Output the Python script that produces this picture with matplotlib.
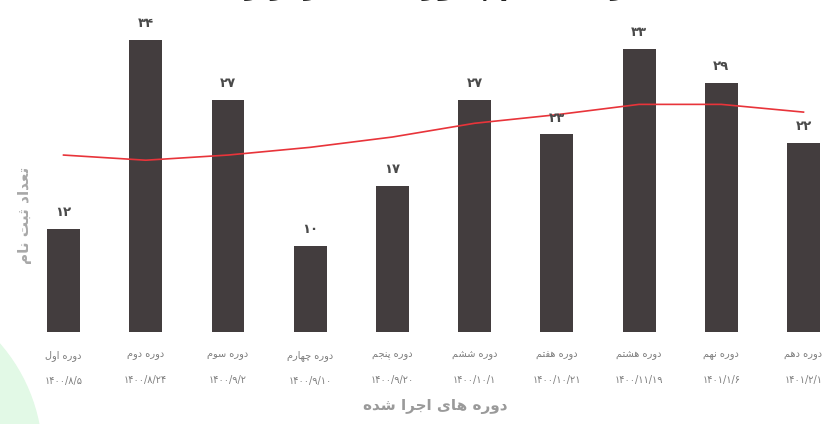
import matplotlib.pyplot as plt
from matplotlib.patches import Circle
from matplotlib.transforms import IdentityTransform

# data
names = ['دوره اول', 'دوره دوم', 'دوره سوم', 'دوره چهارم', 'دوره پنجم',
         'دوره ششم', 'دوره هفتم', 'دوره هشتم', 'دوره نهم', 'دوره دهم']
dates = ['۱۴۰۰/۸/۵', '۱۴۰۰/۸/۲۴', '۱۴۰۰/۹/۲', '۱۴۰۰/۹/۱۰', '۱۴۰۰/۹/۲۰',
         '۱۴۰۰/۱۰/۱', '۱۴۰۰/۱۰/۲۱', '۱۴۰۰/۱۱/۱۹', '۱۴۰۱/۱/۶', '۱۴۰۱/۲/۱']
counts = [12, 34, 27, 10, 17, 27, 23, 33, 29, 22]
trend = [20.6, 20.0, 20.6, 21.5, 22.7, 24.3, 25.3, 26.5, 26.5, 25.6]
ylabel = 'تعداد ثبت نام'
xlabel = 'دوره های اجرا شده'
title = 'آمار ثبت نام | دوره های برگزار شده'

# arabic letter forms: isolated, final, initial, medial
forms = {
    'آ': ('\uFE81', '\uFE82', None, None),
    'ا': ('\uFE8D', '\uFE8E', None, None),
    'ب': ('\uFE8F', '\uFE90', '\uFE91', '\uFE92'),
    'ت': ('\uFE95', '\uFE96', '\uFE97', '\uFE98'),
    'ث': ('\uFE99', '\uFE9A', '\uFE9B', '\uFE9C'),
    'ج': ('\uFE9D', '\uFE9E', '\uFE9F', '\uFEA0'),
    'د': ('\uFEA9', '\uFEAA', None, None),
    'ر': ('\uFEAD', '\uFEAE', None, None),
    'ز': ('\uFEAF', '\uFEB0', None, None),
    'س': ('\uFEB1', '\uFEB2', '\uFEB3', '\uFEB4'),
    'ش': ('\uFEB5', '\uFEB6', '\uFEB7', '\uFEB8'),
    'ع': ('\uFEC9', '\uFECA', '\uFECB', '\uFECC'),
    'ف': ('\uFED1', '\uFED2', '\uFED3', '\uFED4'),
    'ل': ('\uFEDD', '\uFEDE', '\uFEDF', '\uFEE0'),
    'م': ('\uFEE1', '\uFEE2', '\uFEE3', '\uFEE4'),
    'ن': ('\uFEE5', '\uFEE6', '\uFEE7', '\uFEE8'),
    'ه': ('\uFEE9', '\uFEEA', '\uFEEB', '\uFEEC'),
    'و': ('\uFEED', '\uFEEE', None, None),
    'ی': ('\uFBFC', '\uFBFD', '\uFBFE', '\uFBFF'),
    'پ': ('\uFB56', '\uFB57', '\uFB58', '\uFB59'),
    'چ': ('\uFB7A', '\uFB7B', '\uFB7C', '\uFB7D'),
    'گ': ('\uFB92', '\uFB93', '\uFB94', '\uFB95'),
}


def fa(s):
    out = []
    for i, c in enumerate(s):
        if c not in forms:
            out.append(c)
            continue
        prev = s[i - 1] if i > 0 else None
        nxt = s[i + 1] if i + 1 < len(s) else None
        jp = prev in forms and forms[prev][2] is not None
        jn = nxt in forms and forms[c][2] is not None
        iso, fin, ini, med = forms[c]
        if jp and jn:
            out.append(med)
        elif jp:
            out.append(fin)
        elif jn:
            out.append(ini)
        else:
            out.append(iso)
    return ''.join(reversed(out))


def fa_digits(n):
    return ''.join(chr(0x06F0 + int(d)) for d in str(n))


plt.rcParams['font.family'] = ['DejaVu Sans']

fig = plt.figure(figsize=(8.38, 4.24), dpi=100)
# light green circle in the lower left corner (pixel coords)
fig.patches.append(Circle((-130, -33), 172, transform=IdentityTransform(),
                          color='#e2f9e6', zorder=0))

ax = fig.add_axes([22.4 / 838, 92 / 424, 814 / 838, 326.4 / 424])
ax.set_facecolor('none')
x = list(range(len(counts)))
ax.bar(x, counts, width=0.4, color='#433d3e', zorder=2)
ax.plot(x, trend, color='#e8343a', lw=1.2, zorder=3)
for i, v in enumerate(counts):
    ax.annotate(fa_digits(v), (i, v), xytext=(0, 7), textcoords='offset points',
                ha='center', va='bottom', fontsize=9.5, color='#4a4a4a', fontweight='bold')

ax.set_xlim(-0.5, 9.4)
ax.set_ylim(0, 38)
ax.set_xticks(x, [fa(n) + '\n' + d for n, d in zip(names, dates)],
              fontsize=7, color='#7d7d7d', linespacing=2.9)
ax.tick_params(axis='x', length=0, pad=13)
ax.set_yticks([])
for s in ax.spines.values():
    s.set_visible(False)

fig.text(435 / 838, 1 - 406 / 424, fa(xlabel), ha='center', va='center',
         fontsize=11, color='#9a9a9a', fontweight='bold')
fig.text(24 / 838, 1 - 215 / 424, fa(ylabel), ha='center', va='center',
         rotation=90, fontsize=11, color='#a8a8a8', fontweight='bold')
fig.text(420 / 838, 1 - 1 / 424, fa(title), ha='center', va='bottom',
         fontsize=20, color='#222222', fontweight='bold')

fig.savefig('out.png', dpi=100)
